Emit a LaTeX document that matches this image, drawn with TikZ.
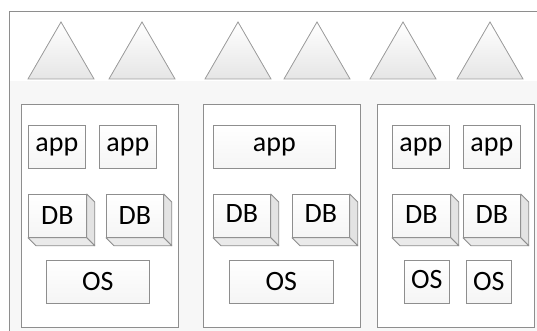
\documentclass[tikz,border=0pt]{standalone}
\usepackage{fontspec}
\setmainfont{Carlito}
\definecolor{edge}{HTML}{8E8E8E}
\definecolor{paper}{HTML}{F7F7F7}
\definecolor{sideface}{HTML}{E3E3E3}
\definecolor{lowface}{HTML}{EAEAEA}
\tikzset{
  frame/.style={draw=edge, line width=0.8pt},
  tri/.style={draw=edge!85, line width=0.8pt, top color=white, bottom color=black!10},
  grp/.style={draw=edge, line width=0.8pt, fill=white},
  blk/.style={draw=edge, line width=0.8pt, top color=white, bottom color=black!4,
    anchor=north west, inner sep=0pt, font=\fontsize{28}{32}\selectfont},
  cubeside/.style={draw=edge, line width=0.8pt, fill=sideface, line join=round},
  cubelow/.style={draw=edge, line width=0.8pt, fill=lowface, line join=round},
}
\begin{document}
\begin{tikzpicture}[x=1pt, y=-1pt]
\useasboundingbox (0,0) rectangle (537,331);

% shaded floor and outer frame
\fill[paper] (9,81) rectangle (537,331);
\draw[frame] (9,335) -- (9,11) -- (540,11);

% row of triangles
\foreach \l/\r in {28/94, 109/175, 205/271, 284/350, 370/436, 457/523}
  \filldraw[tri] (\l,79) -- ({(\l+\r)/2},22) -- (\r,79) -- cycle;

% three groups
\draw[grp] (21,104) rectangle (178,327);
\draw[grp] (203,104) rectangle (360,327);
\draw[grp] (377,104) rectangle (534,327);

% application boxes
\node[blk, minimum width=57, minimum height=43] (a1) at (28,125) {app};
\node[blk, minimum width=57, minimum height=43] (a2) at (99,125) {\raisebox{3pt}{app}};
\node[blk, minimum width=122, minimum height=43] (a3) at (213,125) {\raisebox{1pt}{app}};
\node[blk, minimum width=57, minimum height=43] (a4) at (392,125) {\raisebox{1pt}{app}};
\node[blk, minimum width=57, minimum height=43] (a5) at (463,125) {\raisebox{1pt}{app}};

% database cubes: front faces
\node[blk, minimum width=58, minimum height=43] (d1) at (28,194) {DB};
\node[blk, minimum width=57, minimum height=43] (d2) at (106,194) {DB};
\node[blk, minimum width=57, minimum height=43] (d3) at (213,194) {\raisebox{4pt}{DB}};
\node[blk, minimum width=57, minimum height=43] (d4) at (292,194) {\raisebox{4pt}{DB}};
\node[blk, minimum width=58, minimum height=43] (d5) at (392,194) {\raisebox{3pt}{DB}};
\node[blk, minimum width=57, minimum height=43] (d6) at (463,194) {\raisebox{3pt}{DB}};

% database cubes: depth faces
\foreach \n in {d1,d2,d3,d4,d5,d6} {
  \filldraw[cubeside] (\n.north east) -- ++(8,8) -- ([shift={(8,8)}]\n.south east) -- (\n.south east) -- cycle;
  \filldraw[cubelow] (\n.south west) -- ++(8,8) -- ([shift={(8,8)}]\n.south east) -- (\n.south east) -- cycle;
}

% operating system boxes
\node[blk, minimum width=103, minimum height=43] (o1) at (46,260) {OS};
\node[blk, minimum width=104, minimum height=43] (o2) at (229,260) {OS};
\node[blk, minimum width=45, minimum height=43] (o3) at (404,260) {\raisebox{4pt}{OS}};
\node[blk, minimum width=45, minimum height=43] (o4) at (466,260) {\raisebox{-1pt}{OS}};
\end{tikzpicture}
\end{document}
